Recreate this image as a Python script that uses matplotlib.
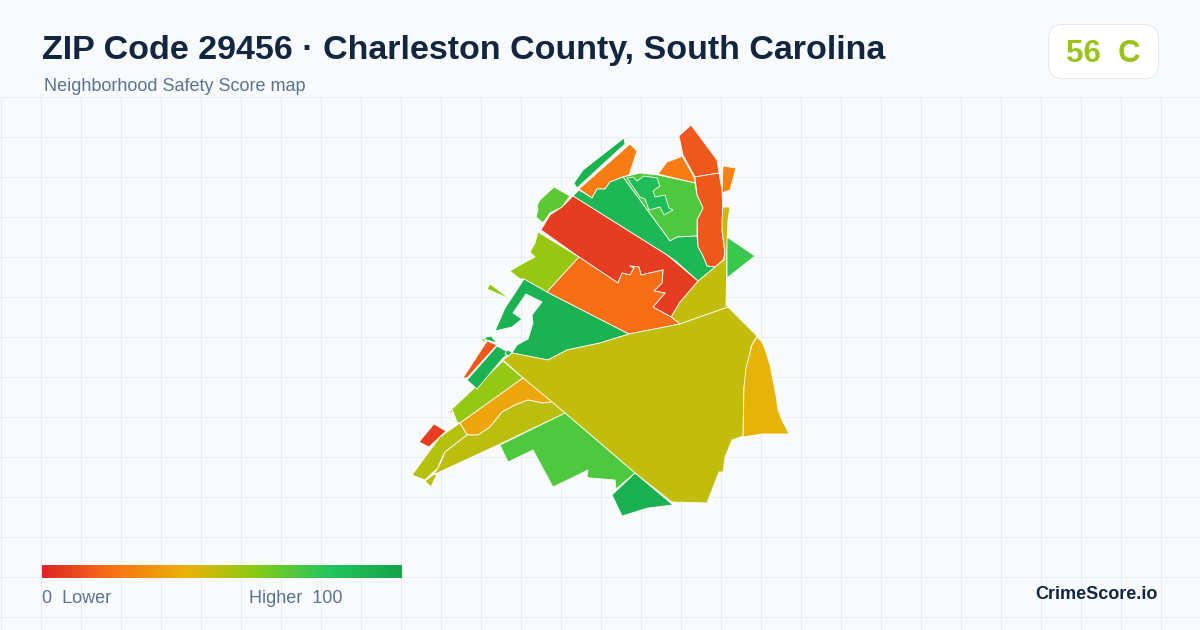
import numpy as np
import matplotlib
matplotlib.use("Agg")
import matplotlib.pyplot as plt
from matplotlib.collections import PolyCollection
from matplotlib.colors import LinearSegmentedColormap, Normalize
from matplotlib.patches import FancyBboxPatch

plt.rcParams['font.family'] = ['Liberation Sans', 'DejaVu Sans']

title = "ZIP Code 29456 · Charleston County, South Carolina"
subtitle = "Neighborhood Safety Score map"
grade_text = "56  C"
brand = "CrimeScore.io"
legend_low = "0  Lower"
legend_high = "Higher  100"

# score scale stops
scale_stops = [0.0, 0.2, 0.4, 0.6, 0.8, 1.0]
scale_colors = ["#dc2626", "#f97316", "#eab308", "#84cc16", "#22c55e", "#16a34a"]

# tract outlines (pixel positions)
north_strip = [(624, 138), (625, 144), (577, 188), (574, 183), (583, 170)]
north_orange = [(630, 144), (637, 151), (629, 175), (620, 178), (610, 182), (605, 189), (597, 189), (592, 198), (579, 189)]
top_cap = [(691, 125), (717, 160), (719, 173), (695, 177), (683, 155), (679, 136)]
top_orange = [(682, 156), (694, 177), (695, 183), (658, 174), (667, 162), (678, 158)]
east_chip = [(723, 166), (736, 168), (730, 190), (722, 193)]
east_long = [(695, 177), (719, 173), (722, 190), (723, 220), (722, 230), (725, 253), (723, 260), (715, 267), (707, 266),
             (703, 256), (698, 247), (697, 220), (703, 208), (697, 195)]
east_olive = [(723, 207), (730, 207), (728, 220), (727, 250), (726, 305), (728, 307), (680, 324), (671, 317), (680, 302),
              (698, 281), (715, 267), (724, 260), (725, 253), (722, 230), (722, 220)]
east_tri = [(727, 237), (755, 256), (727, 278)]
north_light = [(623, 177), (640, 173), (658, 175), (695, 183), (697, 195), (703, 208), (697, 220), (697, 236), (677, 237), (670, 241)]
inlet = [(627, 178), (633, 177), (637, 181), (644, 176), (657, 178), (660, 186), (653, 191), (655, 197), (665, 195), (669, 208),
         (673, 210), (664, 215), (660, 207), (649, 210), (645, 199), (640, 197)]
north_mid = [(579, 190), (592, 198), (597, 189), (605, 189), (610, 182), (623, 177), (670, 241), (677, 237), (697, 236), (698, 247),
             (703, 256), (707, 266), (715, 267), (698, 281), (677, 262), (667, 255), (573, 196)]
red_band = [(573, 196), (667, 255), (698, 281), (680, 302), (671, 317), (653, 307), (665, 293), (654, 291), (662, 283), (663, 270),
            (641, 275), (639, 267), (630, 266), (634, 268), (630, 275), (622, 273), (618, 283), (579, 257), (541, 230), (550, 215), (562, 207)]
nw_green = [(554, 187), (570, 196), (562, 207), (550, 213), (543, 223), (536, 217), (538, 210), (537, 206), (540, 200)]
nw_lime = [(538, 232), (579, 257), (547, 292), (524, 279), (520, 279), (510, 271), (520, 265), (535, 257), (530, 252), (535, 243)]
lime_sliver = [(490, 284), (510, 299), (487, 289)]
mid_green = [(524, 279), (547, 292), (629, 334), (600, 343), (567, 350), (548, 360), (512, 353), (517, 345), (528, 339), (533, 323),
             (532, 315), (542, 302), (526, 294), (513, 313), (522, 319), (512, 327), (495, 331), (505, 308), (515, 293)]
mid_orange = [(579, 257), (618, 283), (622, 273), (630, 275), (634, 268), (630, 266), (639, 267), (641, 275), (663, 270), (662, 283),
              (654, 291), (665, 293), (653, 307), (671, 317), (680, 324), (629, 334), (547, 292)]
main_olive = [(503, 360), (512, 353), (548, 360), (567, 350), (600, 343), (629, 334), (680, 324), (728, 307), (757, 336), (751, 347), (747, 368),
              (744, 387), (743, 436), (732, 440), (725, 457), (723, 472), (719, 472), (707, 503), (672, 502), (635, 473), (565, 413), (523, 378)]
east_gold = [(757, 337), (762, 342), (766, 352), (770, 365), (773, 380), (776, 395), (778, 410), (782, 420), (789, 434), (777, 434),
             (762, 434), (743, 437), (744, 387), (746, 368), (752, 345)]
south_green = [(635, 473), (673, 505), (648, 508), (622, 516), (612, 495)]
south_light = [(565, 413), (635, 473), (616, 489), (615, 480), (590, 478), (587, 477), (588, 470), (553, 487), (533, 450), (508, 462), (500, 445)]
sw_lime = [(503, 361), (523, 378), (460, 423), (457, 422), (452, 409)]
sw_gold = [(523, 378), (552, 402), (543, 403), (528, 400), (515, 405), (502, 412), (490, 427), (478, 435), (467, 435), (460, 423)]
sw_upper = [(460, 423), (467, 435), (445, 452), (440, 462), (438, 468), (430, 475), (425, 480), (412, 475), (440, 437)]
sw_main = [(467, 435), (478, 435), (490, 427), (502, 412), (515, 405), (528, 400), (543, 403), (552, 402), (565, 413), (500, 444),
           (433, 475), (438, 468), (441, 462), (445, 452)]
sw_tail = [(425, 481), (433, 475), (437, 474), (431, 487)]
sw_red = [(434, 424), (446, 431), (429, 447), (419, 442)]
red_speck = [(450, 412), (452, 410), (453, 413)]
west_strip = [(497, 346), (510, 353), (503, 358), (477, 389), (467, 380)]
west_sliver = [(487, 341), (497, 345), (467, 378), (463, 378)]
west_cap = [(483, 338), (491, 336), (497, 343), (487, 340)]
west_chip = [(481, 340), (484, 338), (486, 343)]
west_dot = [(507, 350), (512, 352), (509, 356), (505, 354)]

tracts = [north_strip, north_orange, top_cap, top_orange, east_chip, east_long, east_olive, east_tri,
          north_light, north_mid, inlet, red_band, nw_green, nw_lime, lime_sliver, mid_green, mid_orange,
          main_olive, east_gold, south_green, south_light, sw_lime, sw_gold, sw_upper, sw_main, sw_tail,
          sw_red, red_speck, west_strip, west_sliver, west_cap, west_chip, west_dot]
scores = [91, 23, 13, 23, 24, 13, 48, 75,
          71, 88, 85, 6, 68, 56, 58, 91, 19,
          48, 41, 92, 71, 57, 36, 50, 49, 49,
          6, 6, 91, 13, 91, 58, 91]


def main():
    fig = plt.figure(figsize=(12, 6.3), dpi=100, facecolor="#f8fafc")
    ax = fig.add_axes([0, 0, 1, 1])
    ax.set_xlim(0, 1200)
    ax.set_ylim(630, 0)
    ax.axis("off")

    # background grid, starts below the header
    ax.vlines(np.arange(0.5, 1200, 40), 96.5, 630, color="#e4eef5", lw=0.72, zorder=1)
    ax.hlines(np.arange(96.5, 630, 40), 0, 1200, color="#e4eef5", lw=0.72, zorder=1)

    cmap = LinearSegmentedColormap.from_list("safety", list(zip(scale_stops, scale_colors)))
    norm = Normalize(0, 100)

    polys = PolyCollection(tracts, array=np.array(scores, dtype=float), cmap=cmap, norm=norm,
                           edgecolors="#fbfdf5", linewidths=0.6, zorder=3)
    ax.add_collection(polys)

    ax.text(42, 59, title, fontsize=24.45, fontweight="bold", color="#12263f", ha="left", va="baseline", zorder=5)
    ax.text(44, 91, subtitle, fontsize=12.95, color="#5b7290", ha="left", va="baseline", zorder=5)

    badge = FancyBboxPatch((1048.5, 24.5), 110, 54, boxstyle="round,pad=0,rounding_size=14",
                           fc="#ffffff", ec="#e2e8f0", lw=0.72, zorder=4)
    ax.add_patch(badge)
    ax.text(1103, 62, grade_text, fontsize=22.5, fontweight="bold", color="#9ac31c", ha="center", va="baseline", zorder=5)

    # legend bar
    ax.imshow(np.linspace(0, 1, 360)[None, :], extent=(42, 402, 578, 565), cmap=cmap, vmin=0, vmax=1,
              aspect="auto", zorder=4)
    ax.set_xlim(0, 1200)
    ax.set_ylim(630, 0)
    ax.text(42, 603, legend_low, fontsize=13, color="#5b7290", ha="left", va="baseline", zorder=5)
    ax.text(249, 603, legend_high, fontsize=13, color="#5b7290", ha="left", va="baseline", zorder=5)

    ax.text(1158, 599, brand, fontsize=13, fontweight="bold", color="#12263f", ha="right", va="baseline", zorder=5)

    fig.savefig("out.png", dpi=100, facecolor=fig.get_facecolor())
    plt.close(fig)


if __name__ == "__main__":
    main()
